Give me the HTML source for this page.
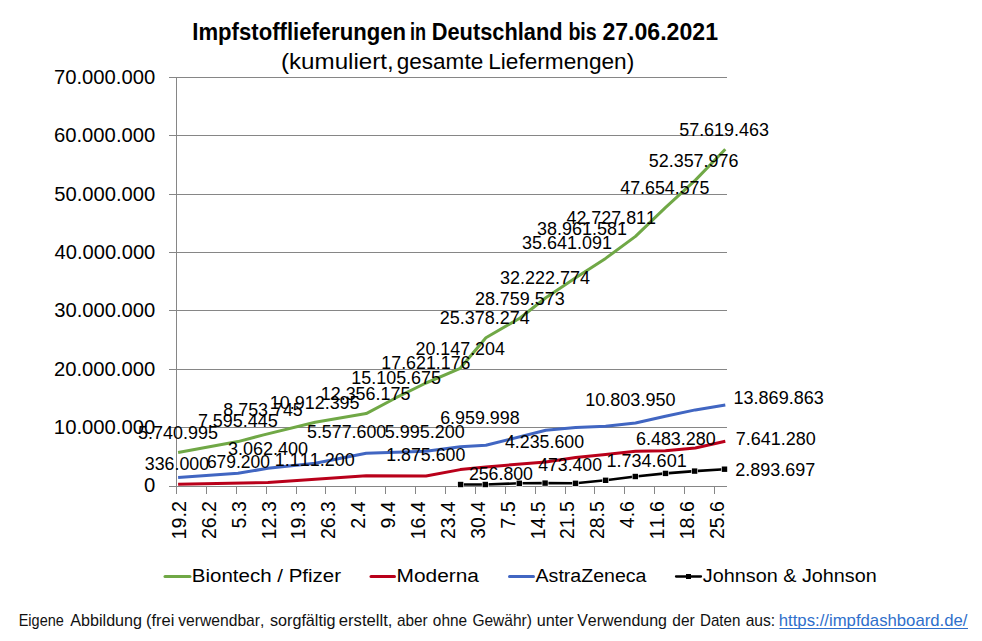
<!DOCTYPE html>
<html><head><meta charset="utf-8"><style>
html,body{margin:0;padding:0;background:#fff;width:982px;height:641px;overflow:hidden}
svg{display:block;font-family:"Liberation Sans",sans-serif}
text{font-kerning:none;font-feature-settings:"kern" 0,"liga" 0}
</style></head><body>
<svg width="982" height="641" viewBox="0 0 982 641" font-family="Liberation Sans, sans-serif">
<rect width="982" height="641" fill="#fff"/>
<line x1="169" y1="77.5" x2="727" y2="77.5" stroke="#868686" stroke-width="1"/>
<line x1="169" y1="135.5" x2="727" y2="135.5" stroke="#868686" stroke-width="1"/>
<line x1="169" y1="194.5" x2="727" y2="194.5" stroke="#868686" stroke-width="1"/>
<line x1="169" y1="252.5" x2="727" y2="252.5" stroke="#868686" stroke-width="1"/>
<line x1="169" y1="310.5" x2="727" y2="310.5" stroke="#868686" stroke-width="1"/>
<line x1="169" y1="369.5" x2="727" y2="369.5" stroke="#868686" stroke-width="1"/>
<line x1="169" y1="427.5" x2="727" y2="427.5" stroke="#868686" stroke-width="1"/>
<line x1="169" y1="486.5" x2="727" y2="486.5" stroke="#868686" stroke-width="1"/>
<line x1="176.5" y1="77" x2="176.5" y2="493.5" stroke="#868686" stroke-width="1"/>
<line x1="176.5" y1="486" x2="176.5" y2="494" stroke="#868686" stroke-width="1"/>
<line x1="206.5" y1="486" x2="206.5" y2="494" stroke="#868686" stroke-width="1"/>
<line x1="236.5" y1="486" x2="236.5" y2="494" stroke="#868686" stroke-width="1"/>
<line x1="266.5" y1="486" x2="266.5" y2="494" stroke="#868686" stroke-width="1"/>
<line x1="296.5" y1="486" x2="296.5" y2="494" stroke="#868686" stroke-width="1"/>
<line x1="325.5" y1="486" x2="325.5" y2="494" stroke="#868686" stroke-width="1"/>
<line x1="355.5" y1="486" x2="355.5" y2="494" stroke="#868686" stroke-width="1"/>
<line x1="385.5" y1="486" x2="385.5" y2="494" stroke="#868686" stroke-width="1"/>
<line x1="415.5" y1="486" x2="415.5" y2="494" stroke="#868686" stroke-width="1"/>
<line x1="445.5" y1="486" x2="445.5" y2="494" stroke="#868686" stroke-width="1"/>
<line x1="475.5" y1="486" x2="475.5" y2="494" stroke="#868686" stroke-width="1"/>
<line x1="505.5" y1="486" x2="505.5" y2="494" stroke="#868686" stroke-width="1"/>
<line x1="535.5" y1="486" x2="535.5" y2="494" stroke="#868686" stroke-width="1"/>
<line x1="565.5" y1="486" x2="565.5" y2="494" stroke="#868686" stroke-width="1"/>
<line x1="594.5" y1="486" x2="594.5" y2="494" stroke="#868686" stroke-width="1"/>
<line x1="624.5" y1="486" x2="624.5" y2="494" stroke="#868686" stroke-width="1"/>
<line x1="654.5" y1="486" x2="654.5" y2="494" stroke="#868686" stroke-width="1"/>
<line x1="684.5" y1="486" x2="684.5" y2="494" stroke="#868686" stroke-width="1"/>
<line x1="714.5" y1="486" x2="714.5" y2="494" stroke="#868686" stroke-width="1"/>
<text x="192.32" y="39.85" font-size="23.10" font-weight="bold" textLength="213.75" lengthAdjust="spacingAndGlyphs" fill="#000">Impfstofflieferungen</text>
<text x="409.94" y="39.85" font-size="23.10" font-weight="bold" textLength="16.09" lengthAdjust="spacingAndGlyphs" fill="#000">in</text>
<text x="431.74" y="39.85" font-size="23.10" font-weight="bold" textLength="130.79" lengthAdjust="spacingAndGlyphs" fill="#000">Deutschland</text>
<text x="568.41" y="39.85" font-size="23.10" font-weight="bold" textLength="28.29" lengthAdjust="spacingAndGlyphs" fill="#000">bis</text>
<text x="602.40" y="39.85" font-size="23.10" font-weight="bold" textLength="115.64" lengthAdjust="spacingAndGlyphs" fill="#000">27.06.2021</text>
<text x="281.00" y="69.40" font-size="22.40" textLength="112.77" lengthAdjust="spacingAndGlyphs" fill="#000">(kumuliert,</text>
<text x="396.75" y="69.40" font-size="22.40" textLength="86.45" lengthAdjust="spacingAndGlyphs" fill="#000">gesamte</text>
<text x="488.24" y="69.40" font-size="22.40" textLength="145.96" lengthAdjust="spacingAndGlyphs" fill="#000">Liefermengen)</text>
<text x="53.96" y="83.80" font-size="20.00" textLength="101.33" lengthAdjust="spacingAndGlyphs" fill="#000">70.000.000</text>
<text x="53.97" y="141.80" font-size="20.00" textLength="101.32" lengthAdjust="spacingAndGlyphs" fill="#000">60.000.000</text>
<text x="54.19" y="200.80" font-size="20.00" textLength="101.10" lengthAdjust="spacingAndGlyphs" fill="#000">50.000.000</text>
<text x="54.54" y="258.80" font-size="20.00" textLength="100.75" lengthAdjust="spacingAndGlyphs" fill="#000">40.000.000</text>
<text x="54.23" y="316.80" font-size="20.00" textLength="101.06" lengthAdjust="spacingAndGlyphs" fill="#000">30.000.000</text>
<text x="53.98" y="375.80" font-size="20.00" textLength="101.31" lengthAdjust="spacingAndGlyphs" fill="#000">20.000.000</text>
<text x="53.86" y="433.80" font-size="20.00" textLength="101.44" lengthAdjust="spacingAndGlyphs" fill="#000">10.000.000</text>
<text x="144.01" y="491.50" font-size="20.00" textLength="11.29" lengthAdjust="spacingAndGlyphs" fill="#000">0</text>
<text transform="translate(185.90,539.51) rotate(-90)" x="0" y="0" font-size="20.00" textLength="38.50" lengthAdjust="spacingAndGlyphs" fill="#000">19.2</text>
<text transform="translate(215.79,538.98) rotate(-90)" x="0" y="0" font-size="20.00" textLength="37.96" lengthAdjust="spacingAndGlyphs" fill="#000">26.2</text>
<text transform="translate(245.68,528.49) rotate(-90)" x="0" y="0" font-size="20.00" textLength="27.35" lengthAdjust="spacingAndGlyphs" fill="#000">5.3</text>
<text transform="translate(275.57,539.50) rotate(-90)" x="0" y="0" font-size="20.00" textLength="38.37" lengthAdjust="spacingAndGlyphs" fill="#000">12.3</text>
<text transform="translate(305.46,539.50) rotate(-90)" x="0" y="0" font-size="20.00" textLength="38.37" lengthAdjust="spacingAndGlyphs" fill="#000">19.3</text>
<text transform="translate(335.35,538.98) rotate(-90)" x="0" y="0" font-size="20.00" textLength="37.83" lengthAdjust="spacingAndGlyphs" fill="#000">26.3</text>
<text transform="translate(365.24,528.69) rotate(-90)" x="0" y="0" font-size="20.00" textLength="27.26" lengthAdjust="spacingAndGlyphs" fill="#000">2.4</text>
<text transform="translate(395.13,528.62) rotate(-90)" x="0" y="0" font-size="20.00" textLength="27.19" lengthAdjust="spacingAndGlyphs" fill="#000">9.4</text>
<text transform="translate(425.02,539.49) rotate(-90)" x="0" y="0" font-size="20.00" textLength="38.06" lengthAdjust="spacingAndGlyphs" fill="#000">16.4</text>
<text transform="translate(454.91,538.97) rotate(-90)" x="0" y="0" font-size="20.00" textLength="37.53" lengthAdjust="spacingAndGlyphs" fill="#000">23.4</text>
<text transform="translate(484.80,538.73) rotate(-90)" x="0" y="0" font-size="20.00" textLength="37.29" lengthAdjust="spacingAndGlyphs" fill="#000">30.4</text>
<text transform="translate(514.69,528.72) rotate(-90)" x="0" y="0" font-size="20.00" textLength="27.55" lengthAdjust="spacingAndGlyphs" fill="#000">7.5</text>
<text transform="translate(544.58,539.50) rotate(-90)" x="0" y="0" font-size="20.00" textLength="38.33" lengthAdjust="spacingAndGlyphs" fill="#000">14.5</text>
<text transform="translate(574.47,538.98) rotate(-90)" x="0" y="0" font-size="20.00" textLength="37.79" lengthAdjust="spacingAndGlyphs" fill="#000">21.5</text>
<text transform="translate(604.36,538.98) rotate(-90)" x="0" y="0" font-size="20.00" textLength="37.79" lengthAdjust="spacingAndGlyphs" fill="#000">28.5</text>
<text transform="translate(634.25,528.15) rotate(-90)" x="0" y="0" font-size="20.00" textLength="27.00" lengthAdjust="spacingAndGlyphs" fill="#000">4.6</text>
<text transform="translate(664.14,539.50) rotate(-90)" x="0" y="0" font-size="20.00" textLength="38.37" lengthAdjust="spacingAndGlyphs" fill="#000">11.6</text>
<text transform="translate(694.03,539.50) rotate(-90)" x="0" y="0" font-size="20.00" textLength="38.37" lengthAdjust="spacingAndGlyphs" fill="#000">18.6</text>
<text transform="translate(723.92,538.98) rotate(-90)" x="0" y="0" font-size="20.00" textLength="37.83" lengthAdjust="spacingAndGlyphs" fill="#000">25.6</text>
<path d="M178.10,477.40 L238.00,473.30 L267.90,468.30 L315.20,463.30 L366.20,453.20 L426.00,451.30 L460.30,446.80 L485.90,445.30 L545.80,430.20 L575.70,427.40 L605.60,426.20 L635.50,423.00 L665.40,416.30 L695.30,409.90 L725.30,405.00" fill="none" stroke="#4166C2" stroke-width="3" stroke-linejoin="round" stroke-linecap="butt"/>
<path d="M178.10,484.30 L267.90,482.40 L366.20,475.80 L426.00,476.00 L460.30,469.60 L485.90,466.90 L545.80,462.00 L575.70,457.50 L605.60,454.60 L635.50,451.20 L665.40,450.70 L695.30,448.00 L725.30,441.30" fill="none" stroke="#B9001A" stroke-width="3" stroke-linejoin="round" stroke-linecap="butt"/>
<path d="M460.60,484.50 L485.30,484.50 L519.30,483.30 L545.10,483.10 L575.50,483.30 L605.60,480.30 L635.30,476.50 L665.50,473.40 L694.60,471.10 L724.50,469.20" fill="none" stroke="#000" stroke-width="2.6" stroke-linejoin="round" stroke-linecap="butt"/>
<rect x="457.20" y="481.10" width="6.8" height="6.8" fill="#fff" fill-opacity="0.85"/>
<rect x="457.90" y="481.80" width="5.4" height="5.4" fill="#000"/>
<rect x="481.90" y="481.10" width="6.8" height="6.8" fill="#fff" fill-opacity="0.85"/>
<rect x="482.60" y="481.80" width="5.4" height="5.4" fill="#000"/>
<rect x="515.90" y="479.90" width="6.8" height="6.8" fill="#fff" fill-opacity="0.85"/>
<rect x="516.60" y="480.60" width="5.4" height="5.4" fill="#000"/>
<rect x="541.70" y="479.70" width="6.8" height="6.8" fill="#fff" fill-opacity="0.85"/>
<rect x="542.40" y="480.40" width="5.4" height="5.4" fill="#000"/>
<rect x="572.10" y="479.90" width="6.8" height="6.8" fill="#fff" fill-opacity="0.85"/>
<rect x="572.80" y="480.60" width="5.4" height="5.4" fill="#000"/>
<rect x="602.20" y="476.90" width="6.8" height="6.8" fill="#fff" fill-opacity="0.85"/>
<rect x="602.90" y="477.60" width="5.4" height="5.4" fill="#000"/>
<rect x="631.90" y="473.10" width="6.8" height="6.8" fill="#fff" fill-opacity="0.85"/>
<rect x="632.60" y="473.80" width="5.4" height="5.4" fill="#000"/>
<rect x="662.10" y="470.00" width="6.8" height="6.8" fill="#fff" fill-opacity="0.85"/>
<rect x="662.80" y="470.70" width="5.4" height="5.4" fill="#000"/>
<rect x="691.20" y="467.70" width="6.8" height="6.8" fill="#fff" fill-opacity="0.85"/>
<rect x="691.90" y="468.40" width="5.4" height="5.4" fill="#000"/>
<rect x="721.10" y="465.80" width="6.8" height="6.8" fill="#fff" fill-opacity="0.85"/>
<rect x="721.80" y="466.50" width="5.4" height="5.4" fill="#000"/>
<path d="M178.10,452.50 L238.00,441.60 L263.60,434.90 L315.20,422.20 L366.20,413.60 L396.10,397.70 L426.00,383.00 L460.20,368.30 L485.90,337.70 L520.10,318.00 L545.80,297.70 L575.70,277.80 L605.60,258.40 L635.50,236.40 L665.40,207.60 L695.40,180.10 L725.30,149.30" fill="none" stroke="#70A846" stroke-width="3" stroke-linejoin="round" stroke-linecap="butt"/>
<text x="138.08" y="438.70" font-size="18.90" textLength="79.87" lengthAdjust="spacingAndGlyphs" fill="#000">5.740.995</text>
<text x="197.88" y="427.30" font-size="18.90" textLength="79.87" lengthAdjust="spacingAndGlyphs" fill="#000">7.595.445</text>
<text x="223.32" y="416.00" font-size="18.90" textLength="79.43" lengthAdjust="spacingAndGlyphs" fill="#000">8.753.745</text>
<text x="269.83" y="409.00" font-size="18.90" textLength="89.72" lengthAdjust="spacingAndGlyphs" fill="#000">10.912.395</text>
<text x="320.73" y="399.70" font-size="18.90" textLength="89.72" lengthAdjust="spacingAndGlyphs" fill="#000">12.356.175</text>
<text x="351.34" y="384.00" font-size="18.90" textLength="89.62" lengthAdjust="spacingAndGlyphs" fill="#000">15.105.675</text>
<text x="381.34" y="369.40" font-size="18.90" textLength="89.14" lengthAdjust="spacingAndGlyphs" fill="#000">17.621.176</text>
<text x="415.50" y="354.80" font-size="18.90" textLength="89.42" lengthAdjust="spacingAndGlyphs" fill="#000">20.147.204</text>
<text x="439.80" y="323.70" font-size="18.90" textLength="90.03" lengthAdjust="spacingAndGlyphs" fill="#000">25.378.274</text>
<text x="474.90" y="305.00" font-size="18.90" textLength="89.89" lengthAdjust="spacingAndGlyphs" fill="#000">28.759.573</text>
<text x="500.12" y="283.60" font-size="18.90" textLength="89.81" lengthAdjust="spacingAndGlyphs" fill="#000">32.222.774</text>
<text x="522.02" y="249.00" font-size="18.90" textLength="89.86" lengthAdjust="spacingAndGlyphs" fill="#000">35.641.091</text>
<text x="537.12" y="235.00" font-size="18.90" textLength="89.76" lengthAdjust="spacingAndGlyphs" fill="#000">38.961.581</text>
<text x="566.49" y="223.80" font-size="18.90" textLength="89.48" lengthAdjust="spacingAndGlyphs" fill="#000">42.727.811</text>
<text x="620.29" y="193.90" font-size="18.90" textLength="89.06" lengthAdjust="spacingAndGlyphs" fill="#000">47.654.575</text>
<text x="648.78" y="166.90" font-size="18.90" textLength="89.71" lengthAdjust="spacingAndGlyphs" fill="#000">52.357.976</text>
<text x="679.18" y="135.90" font-size="18.90" textLength="89.81" lengthAdjust="spacingAndGlyphs" fill="#000">57.619.463</text>
<text x="227.91" y="455.20" font-size="18.90" textLength="80.09" lengthAdjust="spacingAndGlyphs" fill="#000">3.062.400</text>
<text x="306.99" y="437.70" font-size="18.90" textLength="79.21" lengthAdjust="spacingAndGlyphs" fill="#000">5.577.600</text>
<text x="384.78" y="437.70" font-size="18.90" textLength="79.92" lengthAdjust="spacingAndGlyphs" fill="#000">5.995.200</text>
<text x="440.19" y="424.00" font-size="18.90" textLength="79.48" lengthAdjust="spacingAndGlyphs" fill="#000">6.959.998</text>
<text x="585.23" y="406.20" font-size="18.90" textLength="90.28" lengthAdjust="spacingAndGlyphs" fill="#000">10.803.950</text>
<text x="733.53" y="404.30" font-size="18.90" textLength="90.27" lengthAdjust="spacingAndGlyphs" fill="#000">13.869.863</text>
<text x="144.82" y="470.10" font-size="18.90" textLength="64.27" lengthAdjust="spacingAndGlyphs" fill="#000">336.000</text>
<text x="206.91" y="467.90" font-size="18.90" textLength="63.07" lengthAdjust="spacingAndGlyphs" fill="#000">679.200</text>
<text x="274.83" y="466.10" font-size="18.90" textLength="79.97" lengthAdjust="spacingAndGlyphs" fill="#000">1.111.200</text>
<text x="386.25" y="461.00" font-size="18.90" textLength="79.05" lengthAdjust="spacingAndGlyphs" fill="#000">1.875.600</text>
<text x="504.99" y="448.10" font-size="18.90" textLength="79.10" lengthAdjust="spacingAndGlyphs" fill="#000">4.235.600</text>
<text x="635.99" y="444.80" font-size="18.90" textLength="79.71" lengthAdjust="spacingAndGlyphs" fill="#000">6.483.280</text>
<text x="735.78" y="445.40" font-size="18.90" textLength="80.02" lengthAdjust="spacingAndGlyphs" fill="#000">7.641.280</text>
<text x="468.91" y="479.50" font-size="18.90" textLength="64.08" lengthAdjust="spacingAndGlyphs" fill="#000">256.800</text>
<text x="538.19" y="471.20" font-size="18.90" textLength="63.79" lengthAdjust="spacingAndGlyphs" fill="#000">473.400</text>
<text x="606.42" y="466.50" font-size="18.90" textLength="80.36" lengthAdjust="spacingAndGlyphs" fill="#000">1.734.601</text>
<text x="735.30" y="475.80" font-size="18.90" textLength="79.91" lengthAdjust="spacingAndGlyphs" fill="#000">2.893.697</text>
<line x1="165" y1="576.5" x2="190" y2="576.5" stroke="#70A846" stroke-width="3" stroke-linecap="round"/>
<text x="191.82" y="581.90" font-size="19.20" textLength="149.22" lengthAdjust="spacingAndGlyphs" fill="#000">Biontech / Pfizer</text>
<line x1="371" y1="576.5" x2="394.5" y2="576.5" stroke="#B9001A" stroke-width="3" stroke-linecap="round"/>
<text x="396.59" y="581.90" font-size="19.20" textLength="82.41" lengthAdjust="spacingAndGlyphs" fill="#000">Moderna</text>
<line x1="509.5" y1="576.5" x2="533.5" y2="576.5" stroke="#4166C2" stroke-width="3" stroke-linecap="round"/>
<text x="535.56" y="581.90" font-size="19.20" textLength="110.94" lengthAdjust="spacingAndGlyphs" fill="#000">AstraZeneca</text>
<line x1="676" y1="576.5" x2="701" y2="576.5" stroke="#000" stroke-width="2.3" stroke-linecap="round"/>
<rect x="686" y="574" width="5" height="5" fill="#000"/>
<text x="702.89" y="581.90" font-size="19.20" textLength="173.89" lengthAdjust="spacingAndGlyphs" fill="#000">Johnson &amp; Johnson</text>
<text x="18.71" y="625.70" font-size="15.90" textLength="45.13" lengthAdjust="spacingAndGlyphs" fill="#111">Eigene</text>
<text x="70.27" y="625.70" font-size="15.90" textLength="71.77" lengthAdjust="spacingAndGlyphs" fill="#111">Abbildung</text>
<text x="145.98" y="625.70" font-size="15.90" textLength="28.33" lengthAdjust="spacingAndGlyphs" fill="#111">(frei</text>
<text x="178.15" y="625.70" font-size="15.90" textLength="86.26" lengthAdjust="spacingAndGlyphs" fill="#111">verwendbar,</text>
<text x="269.95" y="625.70" font-size="15.90" textLength="65.59" lengthAdjust="spacingAndGlyphs" fill="#111">sorgfältig</text>
<text x="338.79" y="625.70" font-size="15.90" textLength="53.70" lengthAdjust="spacingAndGlyphs" fill="#111">erstellt,</text>
<text x="396.95" y="625.70" font-size="15.90" textLength="30.71" lengthAdjust="spacingAndGlyphs" fill="#111">aber</text>
<text x="432.85" y="625.70" font-size="15.90" textLength="34.23" lengthAdjust="spacingAndGlyphs" fill="#111">ohne</text>
<text x="472.42" y="625.70" font-size="15.90" textLength="59.54" lengthAdjust="spacingAndGlyphs" fill="#111">Gewähr)</text>
<text x="536.85" y="625.70" font-size="15.90" textLength="36.92" lengthAdjust="spacingAndGlyphs" fill="#111">unter</text>
<text x="577.23" y="625.70" font-size="15.90" textLength="89.70" lengthAdjust="spacingAndGlyphs" fill="#111">Verwendung</text>
<text x="672.35" y="625.70" font-size="15.90" textLength="22.30" lengthAdjust="spacingAndGlyphs" fill="#111">der</text>
<text x="699.96" y="625.70" font-size="15.90" textLength="40.43" lengthAdjust="spacingAndGlyphs" fill="#111">Daten</text>
<text x="745.63" y="625.70" font-size="15.90" textLength="29.59" lengthAdjust="spacingAndGlyphs" fill="#111">aus:</text>
<text x="778.74" y="625.70" font-size="15.90" textLength="188.76" lengthAdjust="spacingAndGlyphs" fill="#2F6FCB">https://impfdashboard.de/</text>
<line x1="779.5" y1="628.5" x2="968" y2="628.5" stroke="#2F6FCB" stroke-width="1"/>
</svg>
</body></html>
